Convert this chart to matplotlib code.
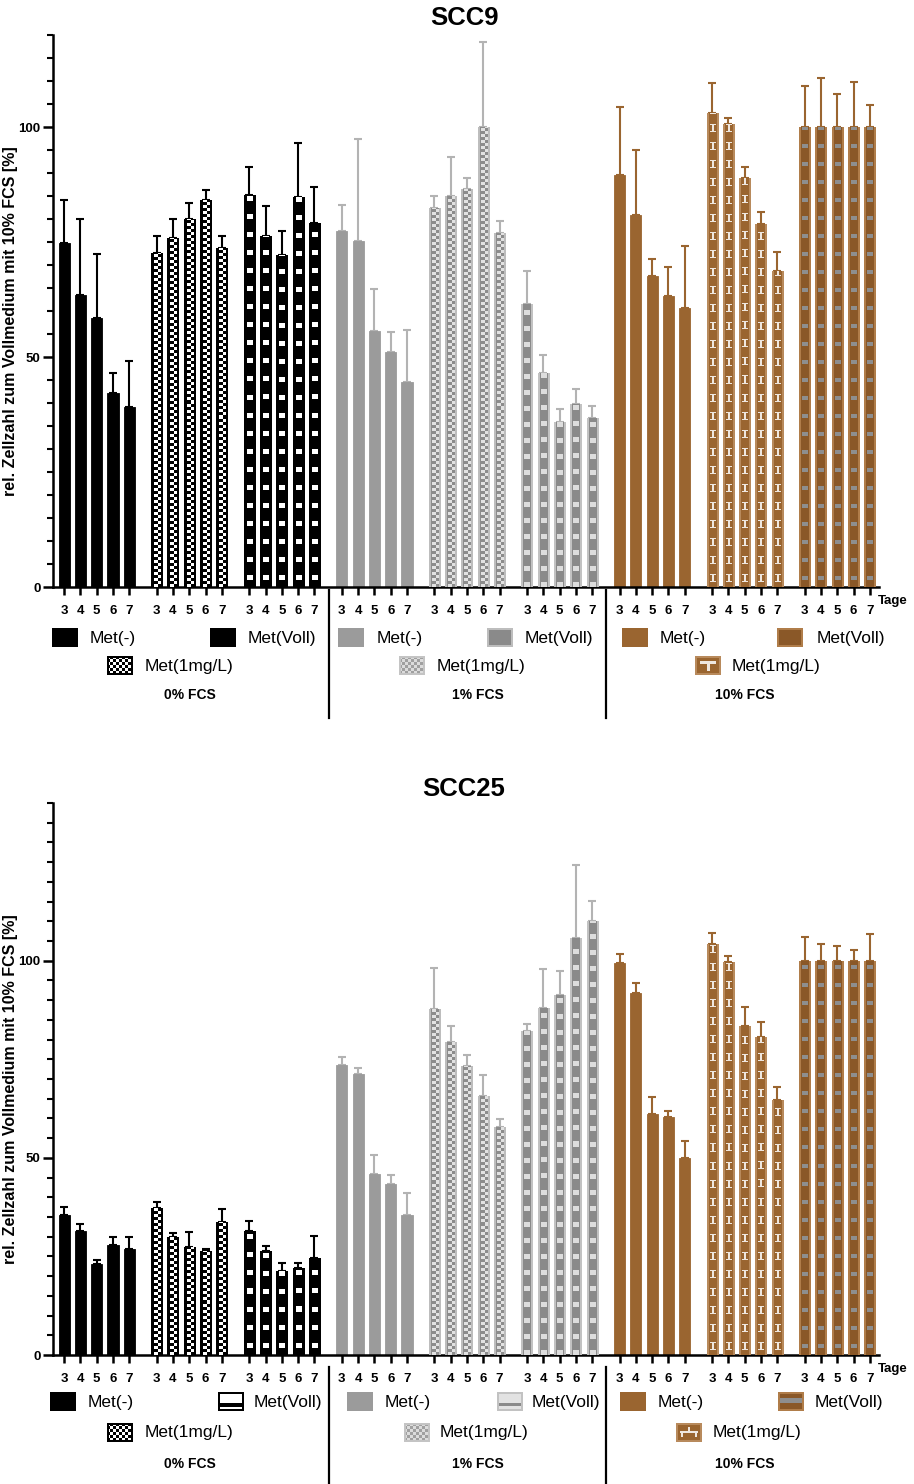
import numpy as np
import matplotlib
matplotlib.use('Agg')
import matplotlib.pyplot as plt
from matplotlib.colors import to_rgb
from matplotlib.ticker import MultipleLocator

plt.rcParams['font.family'] = ['Liberation Sans', 'DejaVu Sans']

W, H = 914, 1484

days = [3, 4, 5, 6, 7]
serum = ['0% FCS', '1% FCS', '10% FCS']
# order inside each serum block: Met(-), Met(1mg/L), Met(Voll)

scc9_mean = [
    [74.7, 63.5, 58.4, 42.2, 39.1],
    [72.6, 75.8, 80.1, 84.2, 73.8],
    [85.3, 76.4, 72.1, 84.7, 79.2],
    [77.4, 75.3, 55.6, 51.1, 44.6],
    [82.3, 85.1, 86.5, 100.0, 77.0],
    [61.5, 46.6, 35.8, 39.8, 36.7],
    [89.5, 80.9, 67.6, 63.2, 60.7],
    [103.0, 100.6, 89.0, 78.9, 68.6],
    [100.0, 100.0, 100.0, 100.0, 100.0],
]
scc9_sd = [
    [9.5, 16.5, 13.9, 4.4, 10.0],
    [3.6, 4.2, 3.3, 2.2, 2.4],
    [5.9, 6.4, 5.2, 11.8, 7.7],
    [5.6, 22.0, 9.1, 4.3, 11.2],
    [2.6, 8.3, 2.4, 18.5, 2.6],
    [7.1, 3.8, 3.0, 3.2, 2.7],
    [14.9, 14.1, 3.7, 6.4, 13.5],
    [6.6, 1.4, 2.3, 2.6, 4.2],
    [9.0, 10.7, 7.1, 9.7, 4.7],
]

scc25_mean = [
    [35.5, 31.5, 23.0, 27.8, 27.0],
    [37.2, 30.0, 27.5, 26.5, 33.7],
    [31.5, 26.3, 21.3, 22.1, 24.7],
    [73.6, 71.2, 45.8, 43.3, 35.4],
    [87.8, 79.4, 73.2, 65.8, 57.7],
    [82.1, 88.1, 91.2, 105.8, 110.0],
    [99.3, 91.8, 61.1, 60.4, 50.0],
    [104.3, 99.7, 83.4, 80.7, 64.6],
    [100.0, 100.0, 100.0, 100.0, 100.0],
]
scc25_sd = [
    [2.0, 1.7, 1.1, 2.2, 3.0],
    [1.5, 1.0, 3.6, 0.5, 3.3],
    [2.4, 1.4, 2.1, 1.3, 5.6],
    [2.0, 1.7, 4.9, 2.3, 5.7],
    [10.3, 4.1, 2.9, 5.1, 2.2],
    [1.8, 9.8, 6.2, 18.5, 5.2],
    [2.5, 2.5, 4.3, 1.4, 4.3],
    [2.7, 1.5, 4.9, 3.8, 3.4],
    [6.1, 4.3, 3.7, 2.8, 6.8],
]

BLACK, GRAY, BROWN = '#000000', '#9b9b9b', '#9a6530'
kinds = ['solid', 'check_k', 'dots_k',
         'solid', 'check_g', 'dash_g',
         'solid', 'ibeam_b', 'dots_b']
faces = [BLACK] * 3 + [GRAY] * 3 + [BROWN] * 3
err_cols = [BLACK] * 3 + ['#b3b3b3'] * 3 + [BROWN] * 3

GROUP_STEP = 5.68
BW = 0.68


def bar_pattern(kind, nr, nc=11):
    r = np.arange(nr)[:, None]
    c = np.arange(nc)[None, :]
    full = lambda m: np.broadcast_to(m, (nr, nc))
    inner = full((c >= 2) & (c < nc - 2))
    img = np.zeros((nr, nc, 3))
    checker = full(np.where((r // 3) % 2 == 0, (c >= 3) & (c < 6), (c >= 6) & (c < 9)))
    if kind == 'check_k':
        img[checker] = 1.0
    elif kind == 'dots_k':
        img[full(((r % 18) >= 7) & ((r % 18) < 12) & (c >= 3) & (c < 8))] = 1.0
    elif kind == 'check_g':
        img[:] = to_rgb('#bdbdbd')
        img[inner] = to_rgb('#8c8c8c')
        img[checker & inner] = to_rgb('#e2e2e2')
    elif kind == 'dash_g':
        img[:] = to_rgb('#c2c2c2')
        img[inner] = to_rgb('#8a8a8a')
        img[full(((r % 16) < 5) & (c >= 3) & (c < 8))] = to_rgb('#dddddd')
    elif kind == 'ibeam_b':
        img[:] = to_rgb('#b88a5c')
        img[inner] = to_rgb(BROWN)
        rr = r % 18
        glyph = (((rr == 5) | (rr == 12)) & (c >= 3) & (c < 8)) | ((rr > 5) & (rr < 12) & (c == 5))
        img[full(glyph)] = to_rgb('#efe7df')
    elif kind == 'dots_b':
        img[:] = to_rgb('#b07d4a')
        img[inner] = to_rgb('#8a5828')
        img[full(((r % 18) >= 7) & ((r % 18) < 11) & (c >= 3) & (c < 8))] = to_rgb('#8e8e8e')
    return img


def swatch_img(kind, nr=19, nc=26):
    r = np.arange(nr)[:, None]
    c = np.arange(nc)[None, :]
    full = lambda m: np.broadcast_to(m, (nr, nc))
    inner = full((r >= 2) & (r < nr - 2) & (c >= 2) & (c < nc - 2))
    img = np.zeros((nr, nc, 3))
    checker = full((((r // 3) + (c // 3)) % 2 == 0)) & inner
    if kind == 'k':
        pass
    elif kind == 'check_k':
        img[checker] = 1.0
    elif kind == 'voll_k2':
        img[inner] = 1.0
        img[full((r >= 11) & (r < 15)) & inner] = 0.0
    elif kind == 'g':
        img[:] = to_rgb(GRAY)
    elif kind == 'check_g':
        img[:] = to_rgb('#c4c4c4')
        img[inner] = to_rgb('#a0a0a0')
        img[checker] = to_rgb('#dcdcdc')
    elif kind == 'voll_g':
        img[:] = to_rgb('#bdbdbd')
        img[inner] = to_rgb('#8a8a8a')
    elif kind == 'voll_g2':
        img[:] = to_rgb('#c2c2c2')
        img[inner] = to_rgb('#e2e2e2')
        img[full((r >= 11) & (r < 14)) & inner] = to_rgb('#8a8a8a')
    elif kind == 'b':
        img[:] = to_rgb(BROWN)
    elif kind == 'voll_b':
        img[:] = to_rgb('#b07d4a')
        img[inner] = to_rgb('#8a5828')
    elif kind == 'voll_b2':
        img[:] = to_rgb('#b07d4a')
        img[inner] = to_rgb('#8a5828')
        img[full((r >= 6) & (r < 11)) & inner] = to_rgb('#8e8e8e')
    elif kind == 'ibeam_b':
        img[:] = to_rgb('#b88a5c')
        img[inner] = to_rgb(BROWN)
        tee = ((r >= 5) & (r < 8) & (c >= 5) & (c < 21)) | ((r >= 8) & (r < 15) & (c >= 12) & (c < 15))
        img[full(tee)] = to_rgb('#efe7df')
    elif kind == 'ibeam_b2':
        img[:] = to_rgb('#b88a5c')
        img[inner] = to_rgb(BROWN)
        shape = (((r >= 8) & (r < 10) & (c >= 4) & (c < 22))
                 | ((r >= 10) & (r < 14) & (((c >= 5) & (c < 7)) | ((c >= 19) & (c < 21))))
                 | ((r >= 4) & (r < 8) & (c >= 12) & (c < 14)))
        img[full(shape)] = to_rgb('#efe7df')
    return img


fig = plt.figure(figsize=(W / 100, H / 100), dpi=100)


def px_axes(left, right, top, bottom):
    return fig.add_axes([left / W, 1 - bottom / H, (right - left) / W, (bottom - top) / H])


def draw_panel(ax, means, sds, ymax, title, title_y):
    ax_h = ax.get_position().height * H
    ppu = ax_h / ymax
    ticks = []
    for g in range(9):
        x = g * GROUP_STEP + np.arange(5)
        ticks.extend(x)
        kind = kinds[g]
        edge = faces[g] if kind == 'solid' else 'none'
        bars = ax.bar(x, means[g], width=BW, color=faces[g], edgecolor=edge,
                      linewidth=0.6, zorder=2)
        ax.errorbar(x, means[g], yerr=[np.zeros(5), sds[g]], fmt='none',
                    ecolor=err_cols[g], elinewidth=1.5, capsize=2.6, capthick=1.5, zorder=1)
        if kind != 'solid':
            for b, v in zip(bars, means[g]):
                nr = max(1, int(round(v * ppu)))
                im = ax.imshow(bar_pattern(kind, nr),
                               extent=(b.get_x(), b.get_x() + b.get_width(), 0, v),
                               origin='lower', interpolation='nearest', aspect='auto', zorder=3)
                im.set_clip_path(b)

    ax.set_xlim(-0.68, 8 * GROUP_STEP + 4 + 0.56)
    ax.set_ylim(0, ymax)
    for s in ('top', 'right'):
        ax.spines[s].set_visible(False)
    for s in ('left', 'bottom'):
        ax.spines[s].set_linewidth(1.8)
    ax.set_xticks(ticks)
    ax.set_xticklabels([str(d) for d in days] * 9, fontsize=9.5, fontweight='bold')
    ax.tick_params(axis='x', length=6, width=1.8, pad=7)
    ax.set_yticks([0, 50, 100])
    ax.yaxis.set_minor_locator(MultipleLocator(5))
    ax.set_yticklabels(['0', '50', '100'], fontsize=9.5, fontweight='bold')
    ax.tick_params(axis='y', which='major', length=7, width=1.8, pad=2)
    ax.tick_params(axis='y', which='minor', length=4.5, width=1.5)
    ax.set_ylabel('rel. Zellzahl zum Vollmedium mit 10% FCS [%]', fontsize=11.5, fontweight='bold')
    ax.yaxis.set_label_coords(-(53 - 18) / 826, 0.5 - 10 / 552)
    fig.text(464 / W, 1 - title_y / H, title, ha='center', va='center',
             fontsize=18.5, fontweight='bold')


ax1 = px_axes(53, 879, 35, 587)
draw_panel(ax1, scc9_mean, scc9_sd, 120, 'SCC9', 18)
ax2 = px_axes(53, 879, 803, 1355)
draw_panel(ax2, scc25_mean, scc25_sd, 140, 'SCC25', 789)

# legend block drawn in pixel coordinates
lay = fig.add_axes([0, 0, 1, 1])
lay.set_xlim(0, W)
lay.set_ylim(H, 0)
lay.set_autoscale_on(False)
lay.axis('off')


def legend_item(x, yc, kind, label, text_x):
    lay.imshow(swatch_img(kind), extent=(x, x + 26, yc + 9.5, yc - 9.5),
               interpolation='nearest', aspect='auto')
    lay.text(text_x, yc, label, ha='left', va='center', fontsize=12.5)


def legend_block(rows, items, seps):
    y1, y2, y3 = rows
    for (sx, sy_row, kind, label, tx) in items:
        legend_item(sx, rows[sy_row], kind, label, tx)
    for lx, txt in zip([190, 478, 745], serum):
        lay.text(lx, y3, txt, ha='center', va='center', fontsize=10, fontweight='bold')
    for sx in (329, 606):
        lay.plot([sx, sx], seps, color='black', lw=1.6)


legend_block((638, 666, 695), [
    (52, 0, 'k', 'Met(-)', 90), (210, 0, 'k', 'Met(Voll)', 248),
    (107, 1, 'check_k', 'Met(1mg/L)', 145),
    (338, 0, 'g', 'Met(-)', 377), (487, 0, 'voll_g', 'Met(Voll)', 525),
    (399, 1, 'check_g', 'Met(1mg/L)', 437),
    (622, 0, 'b', 'Met(-)', 660), (777, 0, 'voll_b', 'Met(Voll)', 817),
    (695, 1, 'ibeam_b', 'Met(1mg/L)', 732),
], (590, 718))

legend_block((1402, 1433, 1464), [
    (50, 0, 'k', 'Met(-)', 88), (218, 0, 'voll_k2', 'Met(Voll)', 254),
    (107, 1, 'check_k', 'Met(1mg/L)', 145),
    (347, 0, 'g', 'Met(-)', 385), (497, 0, 'voll_g2', 'Met(Voll)', 532),
    (404, 1, 'check_g', 'Met(1mg/L)', 440),
    (620, 0, 'b', 'Met(-)', 658), (778, 0, 'voll_b2', 'Met(Voll)', 815),
    (676, 1, 'ibeam_b2', 'Met(1mg/L)', 713),
], (1367, 1484))

for ty in (601, 1369):
    lay.text(878, ty, 'Tage', ha='left', va='center', fontsize=9.5, fontweight='bold')

fig.savefig('out.png', dpi=100)
